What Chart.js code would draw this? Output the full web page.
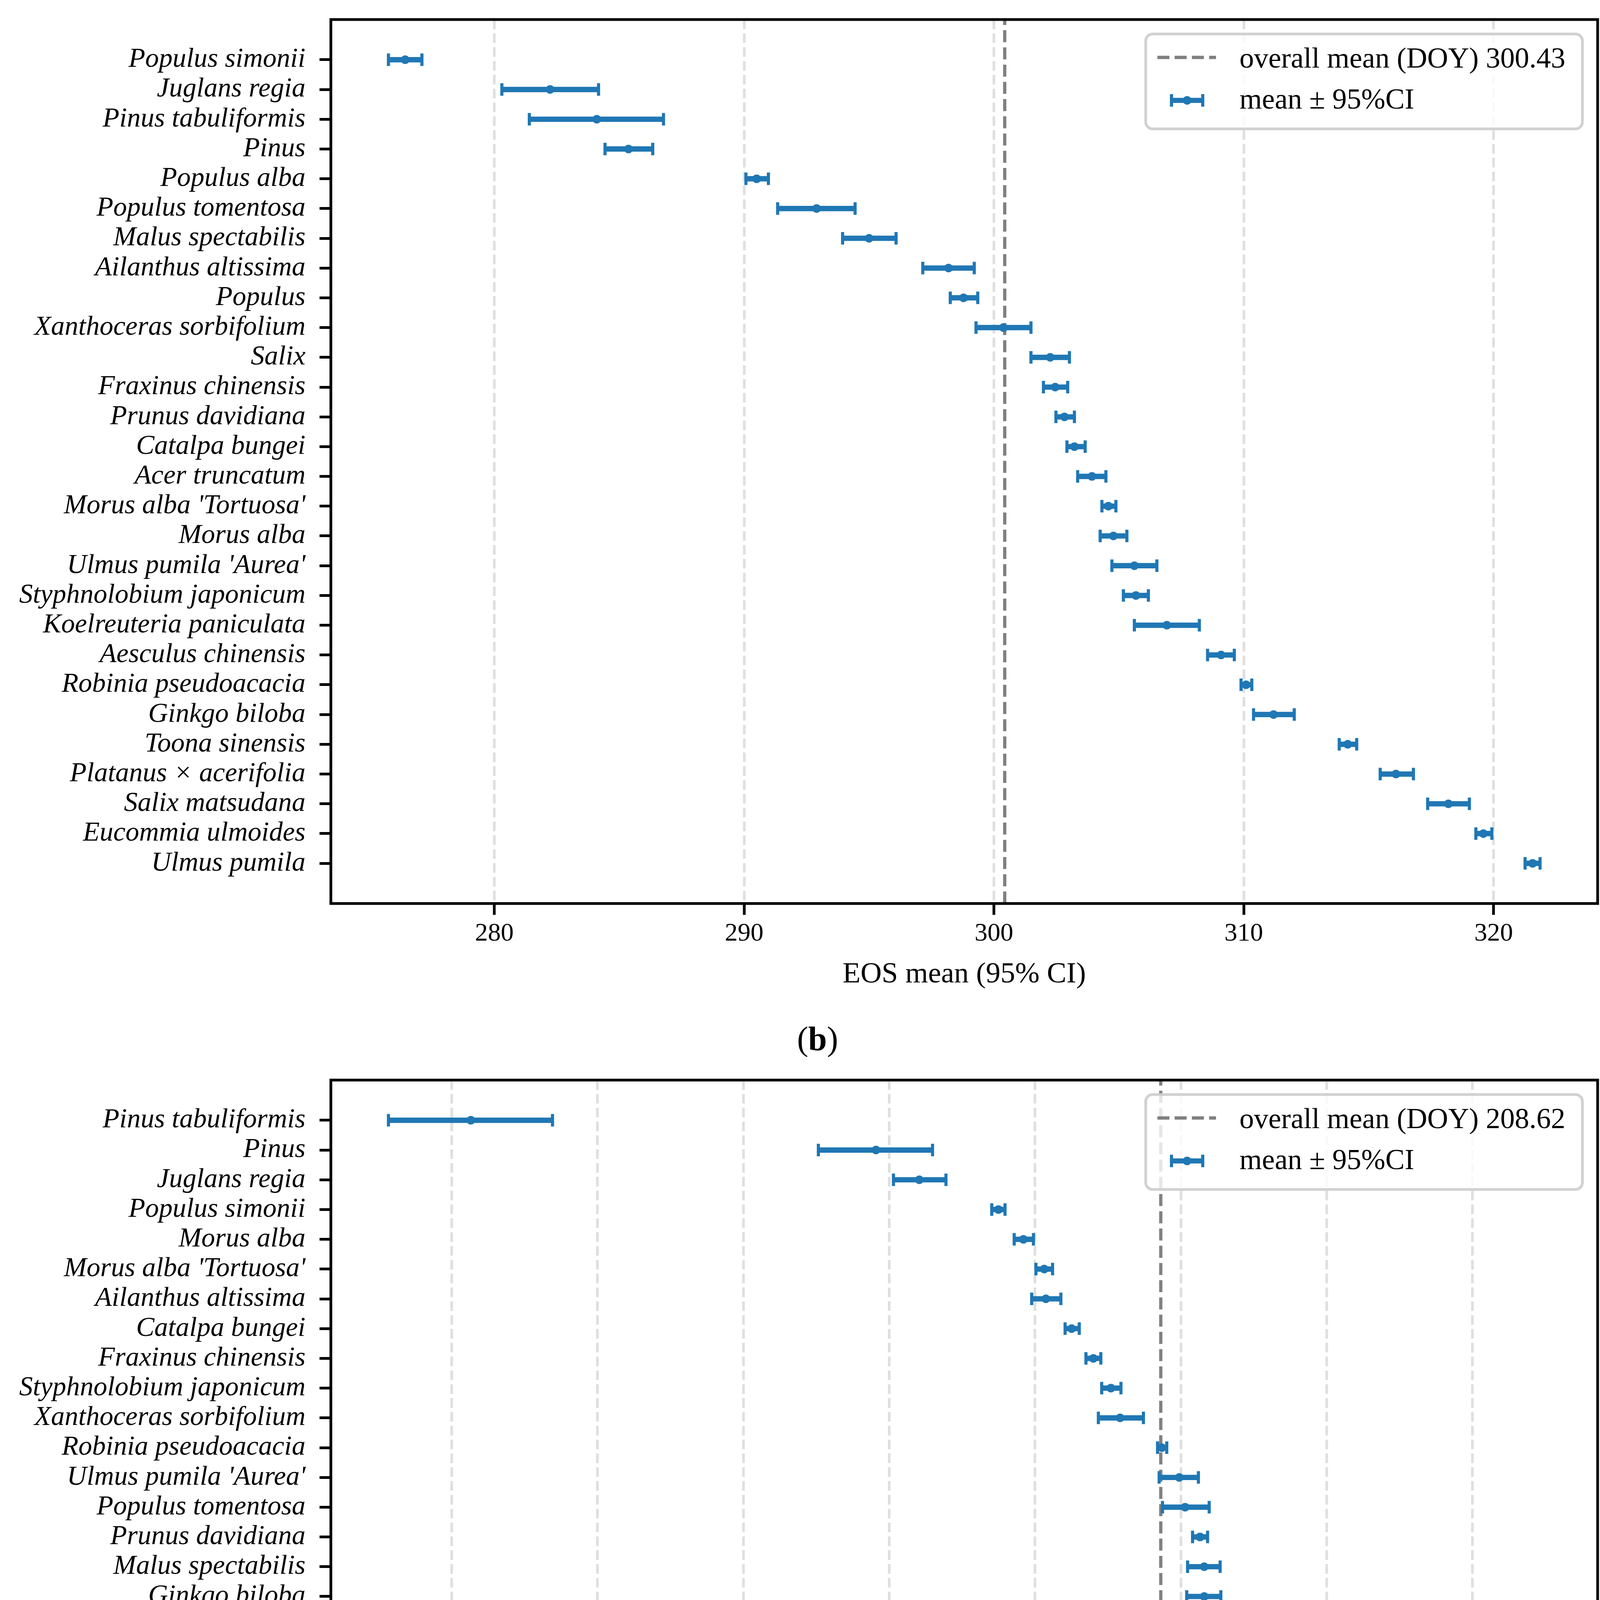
<!DOCTYPE html>
<html>
<head>
<meta charset="utf-8">
<script src="https://cdn.jsdelivr.net/npm/chart.js@4.4.0/dist/chart.umd.min.js"></script>
<style>
  html, body { margin: 0; padding: 0; background: #fff; }
  body { width: 4146px; height: 5452px; position: relative; overflow: hidden; font-family: "Liberation Serif", "Times New Roman", serif; }
  .panel { position: absolute; left: 0; width: 4146px; height: 2533px; }
  .tag { position: absolute; left: 0; width: 4186px; text-align: center; font-size: 86px; line-height: 86px; color: #000; }
</style>
</head>
<body>
<div class="panel" style="top:0"><canvas id="eosChart"></canvas></div>
<div class="tag" style="top:2616px">(<b>b</b>)</div>
<div class="panel" style="top:2715px"><canvas id="dosChart"></canvas></div>
<div class="tag" style="top:5330px">(<b>c</b>)</div>
<script>
// panel (b): end of season
const eosSpecies = ['Populus simonii', 'Juglans regia', 'Pinus tabuliformis', 'Pinus', 'Populus alba',
    'Populus tomentosa', 'Malus spectabilis', 'Ailanthus altissima', 'Populus', 'Xanthoceras sorbifolium',
    'Salix', 'Fraxinus chinensis', 'Prunus davidiana', 'Catalpa bungei', 'Acer truncatum',
    "Morus alba 'Tortuosa'", 'Morus alba', "Ulmus pumila 'Aurea'", 'Styphnolobium japonicum',
    'Koelreuteria paniculata', 'Aesculus chinensis', 'Robinia pseudoacacia', 'Ginkgo biloba',
    'Toona sinensis', 'Platanus × acerifolia', 'Salix matsudana', 'Eucommia ulmoides', 'Ulmus pumila'];
const eosMean = [276.43, 282.23, 284.10, 285.37, 290.50, 292.90, 295.00, 298.18, 298.78, 300.38,
    302.25, 302.45, 302.82, 303.22, 303.92, 304.58, 304.78, 305.62, 305.68, 306.92,
    309.09, 310.09, 311.19, 314.16, 316.09, 318.19, 319.59, 321.56];
const eosLow = [275.76, 280.30, 281.40, 284.43, 290.07, 291.34, 293.94, 297.15, 298.25, 299.28,
    301.48, 301.98, 302.48, 302.92, 303.35, 304.32, 304.25, 304.72, 305.18, 305.62,
    308.55, 309.89, 310.39, 313.82, 315.46, 317.36, 319.29, 321.26];
const eosHigh = [277.10, 284.17, 286.77, 286.34, 290.97, 294.44, 296.08, 299.21, 299.35, 301.48,
    303.02, 302.95, 303.22, 303.65, 304.48, 304.88, 305.32, 306.52, 306.18, 308.22,
    309.62, 310.32, 312.02, 314.52, 316.79, 319.03, 319.93, 321.86];
const eosTicks = [280, 290, 300, 310, 320];
const eosOverall = 300.43;

// panel (c): duration of season
const dosSpecies = ['Pinus tabuliformis', 'Pinus', 'Juglans regia', 'Populus simonii', 'Morus alba',
    "Morus alba 'Tortuosa'", 'Ailanthus altissima', 'Catalpa bungei', 'Fraxinus chinensis',
    'Styphnolobium japonicum', 'Xanthoceras sorbifolium', 'Robinia pseudoacacia', "Ulmus pumila 'Aurea'",
    'Populus tomentosa', 'Prunus davidiana', 'Malus spectabilis', 'Ginkgo biloba', 'Populus alba',
    'Platanus × acerifolia', 'Populus', 'Toona sinensis', 'Aesculus chinensis', 'Salix',
    'Koelreuteria paniculata', 'Acer truncatum', 'Salix matsudana', 'Ulmus pumila', 'Eucommia ulmoides'];
const dosMean = [161.31, 189.09, 192.06, 197.49, 199.20, 200.63, 200.74, 202.51, 204.00, 205.20,
    205.83, 208.69, 209.89, 210.29, 211.31, 211.60, 211.60, 211.66, 216.86, 217.54,
    217.54, 217.54, 220.34, 220.46, 221.71, 226.86, 230.69, 234.11];
const dosLow = [155.66, 185.14, 190.29, 197.03, 198.57, 200.06, 199.77, 202.06, 203.49, 204.57,
    204.34, 208.40, 208.51, 208.74, 210.80, 210.46, 210.40, 210.80, 216.00, 216.97,
    216.86, 216.91, 219.49, 218.80, 220.69, 225.43, 230.34, 233.60];
const dosHigh = [166.91, 192.97, 193.89, 197.94, 199.89, 201.20, 201.77, 203.03, 204.51, 205.89,
    207.43, 209.03, 211.20, 211.94, 211.83, 212.69, 212.74, 212.51, 217.77, 218.06,
    218.17, 218.11, 221.26, 222.40, 222.86, 228.34, 231.09, 234.63];
const dosTicks = [160, 170, 180, 190, 200, 210, 220, 230];
const dosOverall = 208.62;

const BLUE = '#1f77b4';
const FONT = 'Liberation Serif';

// mean line, axes frame and legend box
const decorations = {
    id: 'decorations',
    beforeDatasetsDraw(chart, args, opts) {
        const {ctx, chartArea: a} = chart;
        const px = chart.scales.x.getPixelForValue(opts.overall);
        ctx.save();
        ctx.strokeStyle = '#808080';
        ctx.lineWidth = 8.3;
        ctx.setLineDash([30.8, 13.3]);
        ctx.beginPath();
        ctx.moveTo(px, a.bottom);
        ctx.lineTo(px, a.top);
        ctx.stroke();
        ctx.restore();
    },
    afterDatasetsDraw(chart) {
        const {ctx, chartArea: a} = chart;
        ctx.save();
        ctx.strokeStyle = '#000';
        ctx.lineWidth = 7;
        ctx.strokeRect(a.left, a.top, a.right - a.left, a.bottom - a.top);
        ctx.restore();
    },
    afterDraw(chart, args, opts) {
        const {ctx, chartArea: a} = chart;
        const w = 1118, h = 243;
        const x0 = a.right - 39 - w, y0 = a.top + 37;
        ctx.save();
        ctx.beginPath();
        ctx.roundRect(x0, y0, w, h, 18);
        ctx.fillStyle = 'rgba(255,255,255,0.8)';
        ctx.fill();
        ctx.strokeStyle = 'rgba(204,204,204,0.9)';
        ctx.lineWidth = 7;
        ctx.stroke();

        // dashed line sample
        ctx.strokeStyle = '#808080';
        ctx.lineWidth = 8.3;
        ctx.setLineDash([30.8, 13.3]);
        ctx.beginPath();
        ctx.moveTo(x0 + 30, y0 + 60);
        ctx.lineTo(x0 + 180, y0 + 60);
        ctx.stroke();
        ctx.setLineDash([]);

        // error bar sample
        const ey = y0 + 170;
        ctx.strokeStyle = BLUE;
        ctx.fillStyle = BLUE;
        ctx.lineWidth = 13;
        ctx.beginPath();
        ctx.moveTo(x0 + 66, ey);
        ctx.lineTo(x0 + 146, ey);
        ctx.stroke();
        ctx.lineWidth = 8;
        ctx.beginPath();
        ctx.moveTo(x0 + 66, ey - 16); ctx.lineTo(x0 + 66, ey + 16);
        ctx.moveTo(x0 + 146, ey - 16); ctx.lineTo(x0 + 146, ey + 16);
        ctx.stroke();
        ctx.beginPath();
        ctx.arc(x0 + 106, ey, 11, 0, Math.PI * 2);
        ctx.fill();

        ctx.fillStyle = '#000';
        ctx.font = '74px "' + FONT + '"';
        ctx.textBaseline = 'alphabetic';
        ctx.textAlign = 'left';
        ctx.fillText('overall mean (DOY) ' + opts.overall.toFixed(2), x0 + 240, y0 + 86);
        ctx.fillText('mean ± 95%CI', x0 + 240, y0 + 191);
        ctx.restore();
    }
};

function makeChart(id, species, means, lows, highs, ticks, overall, axisTitle) {
    const lo = Math.min(...lows);
    const hi = Math.max(...highs);
    const pad = (hi - lo) * 0.05;
    const pts = arr => arr.map((v, i) => ({x: v, y: i}));

    return new Chart(document.getElementById(id), {
        type: 'bar',
        data: {
            datasets: [
                {
                    type: 'scatter',
                    data: pts(means),
                    pointStyle: 'circle',
                    pointRadius: 11,
                    pointBackgroundColor: BLUE,
                    pointBorderWidth: 0
                },
                {
                    type: 'scatter',
                    data: pts(lows),
                    pointStyle: 'line',
                    pointRotation: 90,
                    pointRadius: 16,
                    pointBorderWidth: 8,
                    pointBorderColor: BLUE
                },
                {
                    type: 'scatter',
                    data: pts(highs),
                    pointStyle: 'line',
                    pointRotation: 90,
                    pointRadius: 16,
                    pointBorderWidth: 8,
                    pointBorderColor: BLUE
                },
                {
                    type: 'bar',
                    data: lows.map((v, i) => ({x: [v, highs[i]], y: i})),
                    backgroundColor: BLUE,
                    borderWidth: 0,
                    barThickness: 13
                }
            ]
        },
        options: {
            indexAxis: 'y',
            responsive: true,
            maintainAspectRatio: false,
            devicePixelRatio: 1,
            animation: false,
            events: [],
            layout: {padding: {top: 50, right: 56, left: 0, bottom: 0}},
            plugins: {
                legend: {display: false},
                tooltip: {enabled: false},
                decorations: {overall: overall}
            },
            scales: {
                x: {
                    type: 'linear',
                    offset: false,
                    min: lo - pad,
                    max: hi + pad,
                    afterBuildTicks: s => { s.ticks = ticks.map(v => ({value: v})); },
                    afterFit: s => {
                        s.height = 220;
                        s.paddingLeft = 0; s.paddingRight = 0;
                    },
                    grid: {offset: false, color: '#dfdfdf', lineWidth: 6.7, drawTicks: true, tickLength: 29,
                        tickColor: '#000', tickWidth: 7, tickBorderDash: []},
                    border: {display: false, dash: [24.7, 10.7]},
                    ticks: {autoSkip: false, maxRotation: 0, padding: 16, color: '#000',
                        font: {family: FONT, size: 66, lineHeight: 1}},
                    title: {display: true, text: axisTitle, color: '#000', padding: 0,
                        font: {family: FONT, size: 75, lineHeight: 1}}
                },
                y: {
                    type: 'linear',
                    offset: false,
                    min: -1.35,
                    max: species.length - 1 + 1.35,
                    reverse: true,
                    afterBuildTicks: s => { s.ticks = species.map((_, i) => ({value: i})); },
                    afterFit: s => {
                        s.width = 847;
                        s.paddingTop = 0; s.paddingBottom = 0;
                    },
                    grid: {offset: false, drawOnChartArea: false, drawTicks: true, tickLength: 29,
                        tickColor: '#000', tickWidth: 7},
                    border: {display: false},
                    ticks: {autoSkip: false, padding: 36, color: '#000',
                        font: {family: FONT, size: 70, style: 'italic', lineHeight: 1},
                        callback: v => species[v]}
                }
            }
        },
        plugins: [decorations]
    });
}

makeChart('eosChart', eosSpecies, eosMean, eosLow, eosHigh, eosTicks, eosOverall, 'EOS mean (95% CI)');
makeChart('dosChart', dosSpecies, dosMean, dosLow, dosHigh, dosTicks, dosOverall, 'DOS mean (95% CI)');
</script>
</body>
</html>
